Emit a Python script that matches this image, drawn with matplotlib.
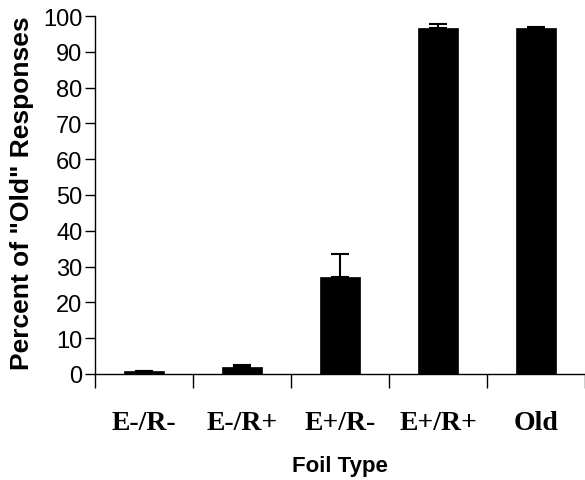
import matplotlib
matplotlib.use("Agg")
import matplotlib.pyplot as plt
import numpy as np

# Foil types and mean percent of "old" responses (upper error only, Excel style)
foil_types = ["E-/R-", "E-/R+", "E+/R-", "E+/R+", "Old"]
percent_old = [0.7, 1.9, 27.0, 96.7, 96.7]
err_upper = [0.0, 0.7, 6.5, 1.1, 0.1]

plt.rcParams['font.family'] = ['Liberation Sans', 'DejaVu Sans']

fig = plt.figure(figsize=(5.85, 4.81), dpi=100)
ax = fig.add_axes([95 / 585, 1 - 375 / 481, 490 / 585, 358 / 481])

x = np.arange(len(foil_types))
ax.bar(x, percent_old, width=0.41, color='black', edgecolor='black', linewidth=0.5)
ax.errorbar(x, percent_old, yerr=[np.zeros(len(x)), err_upper], fmt='none',
            ecolor='black', elinewidth=1.5, capsize=6.5, capthick=1.5)

ax.set_xlim(-0.5, 4.5)
ax.set_ylim(0, 100)
ax.set_yticks(np.arange(0, 101, 10))
ax.tick_params(axis='y', direction='out', length=7, width=1, pad=2, labelsize=17)

# category labels between boundary ticks
ax.set_xticks(x)
ax.set_xticklabels(foil_types, fontfamily='Liberation Serif', fontweight='bold', fontsize=20)
ax.tick_params(axis='x', which='major', length=0, pad=26)
ax.set_xticks(np.arange(-0.5, 5, 1), minor=True)
ax.tick_params(axis='x', which='minor', direction='out', length=10, width=1)

ax.spines['top'].set_visible(False)
ax.spines['right'].set_visible(False)
for s in ['left', 'bottom']:
    ax.spines[s].set_linewidth(1)

ax.set_ylabel('Percent of "Old" Responses', fontsize=19, fontweight='bold', va='center')
ax.yaxis.set_label_coords(-0.149, 0.507)
ax.set_xlabel('Foil Type', fontsize=16, fontweight='bold', va='center')
ax.xaxis.set_label_coords(0.5, (375 - 467) / 358)

fig.savefig("out.png", dpi=100)
